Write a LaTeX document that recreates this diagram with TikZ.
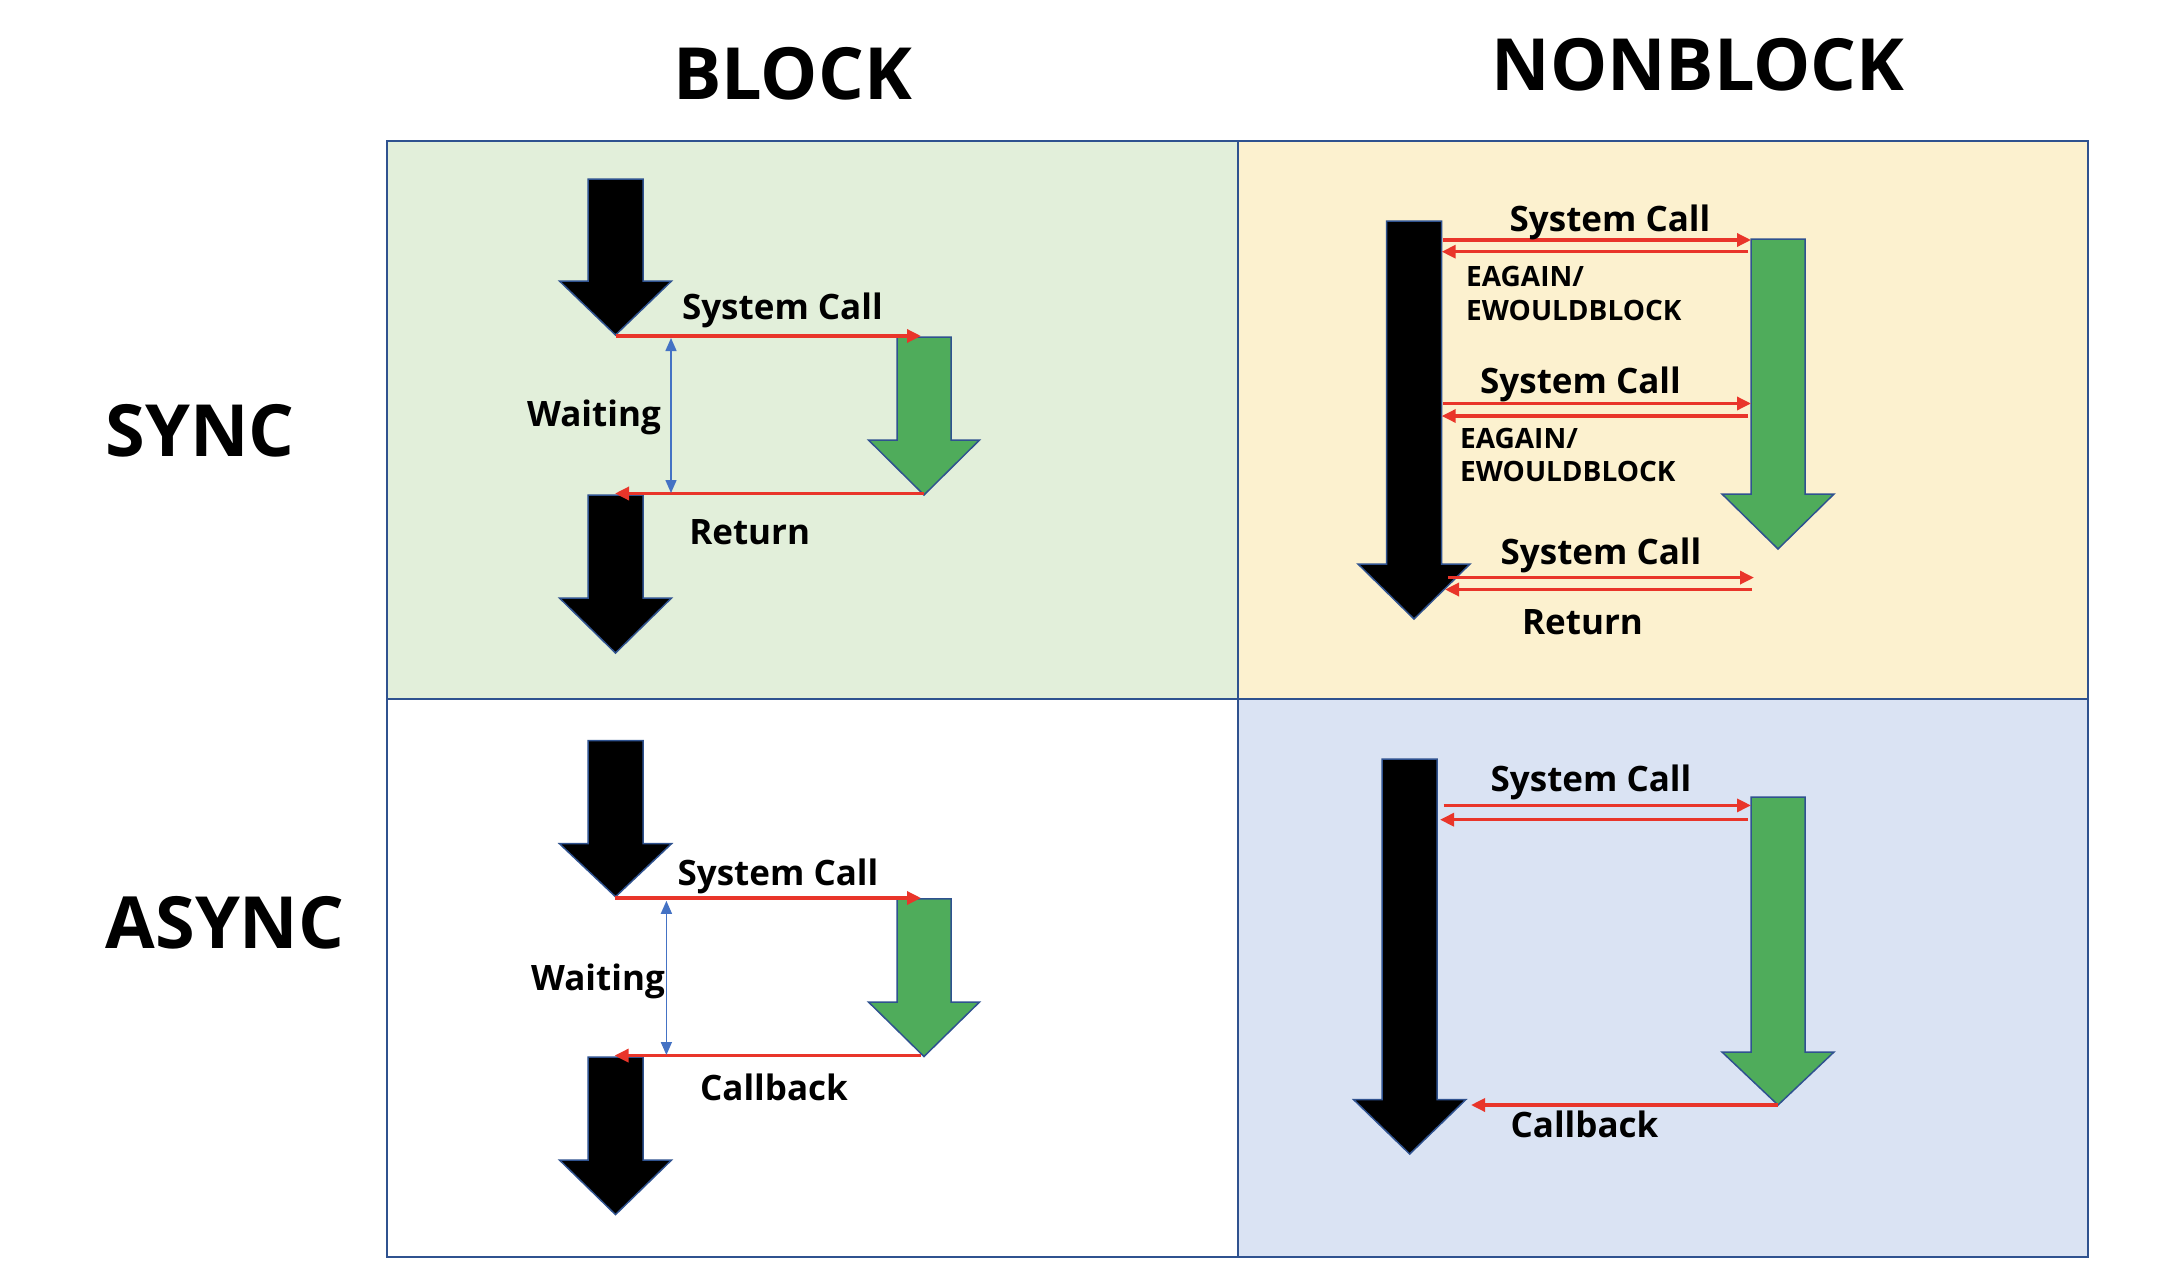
\documentclass[tikz,border=0pt]{standalone}
\usepackage{fontspec}
\setmainfont{Open Sans}
\usetikzlibrary{arrows.meta}
\definecolor{gridblue}{HTML}{2F528F}
\definecolor{cellgreen}{HTML}{E2EFDA}
\definecolor{cellyellow}{HTML}{FCF1CF}
\definecolor{cellblue}{HTML}{DAE3F3}
\definecolor{arrowgreen}{HTML}{4FAC5B}
\definecolor{callred}{HTML}{E9352A}
\definecolor{waitblue}{HTML}{4472C4}
\newcommand\barrow[7]{%
  \filldraw[arrowline, fill=#7] ({#1-#5},#2) -- ({#1+#5},#2) -- ({#1+#5},#3) -- ({#1+#6},#3) -- (#1,#4) -- ({#1-#6},#3) -- ({#1-#5},#3) -- cycle;}
\tikzset{
  arrowline/.style={draw=gridblue, line width=1.5pt, line join=miter},
  cellline/.style={draw=gridblue, line width=2pt},
  title/.style={font=\bfseries\fontsize{72}{80}\selectfont, inner sep=0pt, anchor=base},
  lbl/.style={font=\bfseries\fontsize{35}{40}\selectfont, inner sep=0pt, anchor=base},
  small/.style={font=\bfseries\fontsize{28}{32}\selectfont, inner sep=0pt, anchor=base west},
  callarrow/.style={draw=callred, line width=3.3pt, -{Triangle[length=14pt,width=13pt]}},
  waitarrow/.style={draw=waitblue, line width=1.5pt, {Triangle[length=13pt,width=11pt]}-{Triangle[length=13pt,width=11pt]}},
}
\begin{document}
\begin{tikzpicture}[x=1pt,y=-1pt]
\useasboundingbox (0,0) rectangle (2171,1279);
% cells
\fill[cellgreen] (386.5,141) rectangle (1237.5,699);
\fill[cellyellow] (1237.5,141) rectangle (2088,699);
\fill[white] (386.5,699) rectangle (1237.5,1256.5);
\fill[cellblue] (1237.5,699) rectangle (2088,1256.5);
\draw[cellline] (386.5,141) rectangle (2088,1256.5);
\draw[cellline] (386.5,699) -- (2088,699);
\draw[cellline] (1237.5,141) -- (1237.5,1256.5);
% titles
\node[title] (tblock) at (792.5,100) {BLOCK};
\node[title] (tnonblock) at (1698,91) {NONBLOCK};
\node[title] (tsync) at (200,456) {SYNC};
\node[title] (tasync) at (225,948) {ASYNC};
% ---------- top-left: sync block ----------
\barrow{615.5}{179}{281}{335}{27.5}{56}{black}
\barrow{615.5}{495}{598}{653}{27.5}{56}{black}
\barrow{924}{337}{440}{495}{27}{55.5}{arrowgreen}
\coordinate (tlA) at (616,336);
\coordinate (tlB) at (921,336);
\coordinate (tlC) at (924,493.5);
\coordinate (tlD) at (615,493.5);
\coordinate (tlW1) at (671,338);
\coordinate (tlW2) at (671,493);
\draw[callarrow] (tlA) -- (tlB);
\draw[callarrow] (tlC) -- (tlD);
\draw[waitarrow] (tlW1) -- (tlW2);
\node[lbl] (tlsc) at (782.4,319.3) {System Call};
\node[lbl] (tlwait) at (594,426.7) {Waiting};
\node[lbl] (tlret) at (749.7,544) {Return};
% ---------- bottom-left: async block ----------
\barrow{615.5}{740.6}{843.7}{896.7}{27.5}{56}{black}
\barrow{615.5}{1057}{1160}{1214.6}{27.5}{56}{black}
\barrow{924}{898.8}{1002}{1056.5}{27}{55.5}{arrowgreen}
\coordinate (blA) at (614.5,898);
\coordinate (blB) at (921,898);
\coordinate (blC) at (921,1055.6);
\coordinate (blD) at (614.5,1055.6);
\coordinate (blW1) at (666.4,900.8);
\coordinate (blW2) at (666.4,1055);
\draw[callarrow] (blA) -- (blB);
\draw[callarrow] (blC) -- (blD);
\draw[waitarrow] (blW1) -- (blW2);
\node[lbl] (blsc) at (778,885) {System Call};
\node[lbl] (blwait) at (598,990) {Waiting};
\node[lbl] (blcb) at (774,1100) {Callback};
% ---------- top-right: sync nonblock ----------
\barrow{1414}{221}{564}{619}{27.5}{56}{black}
\barrow{1778}{239}{494}{549}{27}{56}{arrowgreen}
\coordinate (trA1) at (1443,240);
\coordinate (trB1) at (1751,240);
\coordinate (trC1) at (1748,251.7);
\coordinate (trD1) at (1441.7,251.7);
\coordinate (trA2) at (1443,403.5);
\coordinate (trB2) at (1751,403.5);
\coordinate (trC2) at (1748,416);
\coordinate (trD2) at (1441.7,416);
\coordinate (trA3) at (1448,577.6);
\coordinate (trB3) at (1754,577.6);
\coordinate (trC3) at (1752,589.5);
\coordinate (trD3) at (1445,589.5);
\draw[callarrow] (trA1) -- (trB1);
\draw[callarrow] (trC1) -- (trD1);
\draw[callarrow] (trA2) -- (trB2);
\draw[callarrow] (trC2) -- (trD2);
\draw[callarrow] (trA3) -- (trB3);
\draw[callarrow] (trC3) -- (trD3);
\node[lbl] (trsc1) at (1610,231.7) {System Call};
\node[small] (trea1) at (1466,286.7) {EAGAIN/};
\node[small] (trew1) at (1466,320) {EWOULDBLOCK};
\node[lbl] (trsc2) at (1580.5,393.3) {System Call};
\node[small] (trea2) at (1460,448.3) {EAGAIN/};
\node[small] (trew2) at (1460,481.7) {EWOULDBLOCK};
\node[lbl] (trsc3) at (1601,564.5) {System Call};
\node[lbl] (trret) at (1582.5,634) {Return};
% ---------- bottom-right: async nonblock ----------
\barrow{1409.7}{759}{1099.7}{1154}{27.5}{56}{black}
\barrow{1778}{797}{1052}{1105}{27}{56}{arrowgreen}
\coordinate (brA) at (1443.6,805.4);
\coordinate (brB) at (1751,805.4);
\coordinate (brC) at (1747.5,819.7);
\coordinate (brD) at (1440,819.7);
\coordinate (brE) at (1777.6,1105);
\coordinate (brF) at (1471,1105);
\draw[callarrow] (brA) -- (brB);
\draw[callarrow] (brC) -- (brD);
\draw[callarrow] (brE) -- (brF);
\node[lbl] (brsc) at (1591,791) {System Call};
\node[lbl] (brcb) at (1584.5,1137) {Callback};
\end{tikzpicture}
\end{document}
